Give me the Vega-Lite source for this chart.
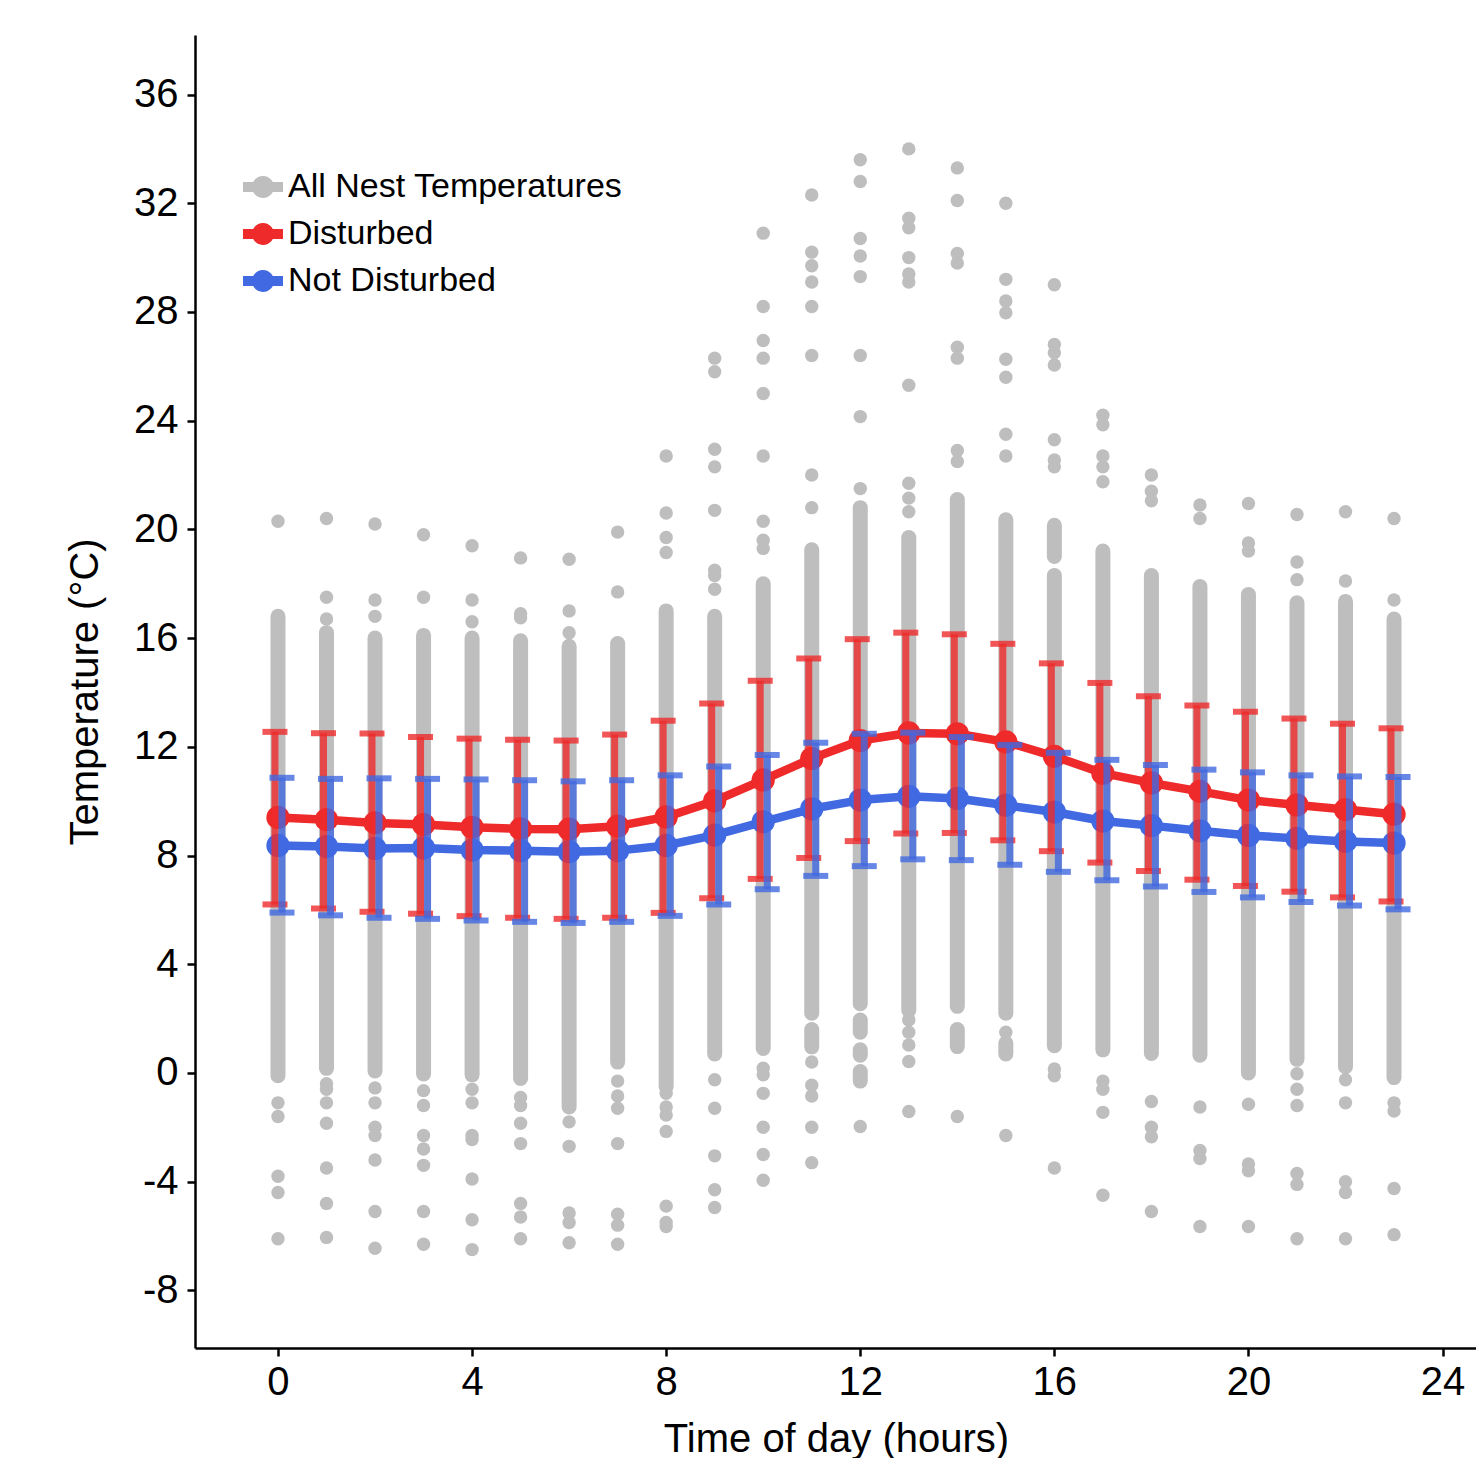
{
  "$schema": "https://vega.github.io/schema/vega-lite/v6.json",
  "width": 1282,
  "height": 1313,
  "autosize": {"type": "none"},
  "padding": {"left": 195, "top": 35, "right": 0, "bottom": 110},
  "background": "white",
  "config": {
    "font": "Liberation Sans",
    "view": {"stroke": null},
    "axis": {
      "domainColor": "black", "domainWidth": 2.5,
      "tickColor": "black", "tickWidth": 2.5, "tickSize": 8,
      "labelFontSize": 40, "labelColor": "black", "labelFont": "Liberation Sans",
      "titleFontSize": 40, "titleFontWeight": "normal", "titleColor": "black", "titleFont": "Liberation Sans",
      "grid": false, "labelFlush": false, "labelExpr": "toString(datum.value)"
    }
  },
  "datasets": {
    "means": [
      {"h":0,"g":"Disturbed","m":9.4,"lo":6.2,"hi":12.55},
      {"h":1,"g":"Disturbed","m":9.32,"lo":6.05,"hi":12.5},
      {"h":2,"g":"Disturbed","m":9.2,"lo":5.93,"hi":12.49},
      {"h":3,"g":"Disturbed","m":9.14,"lo":5.86,"hi":12.36},
      {"h":4,"g":"Disturbed","m":9.04,"lo":5.77,"hi":12.3},
      {"h":5,"g":"Disturbed","m":8.98,"lo":5.71,"hi":12.26},
      {"h":6,"g":"Disturbed","m":8.97,"lo":5.67,"hi":12.23},
      {"h":7,"g":"Disturbed","m":9.08,"lo":5.71,"hi":12.45},
      {"h":8,"g":"Disturbed","m":9.42,"lo":5.89,"hi":12.96},
      {"h":9,"g":"Disturbed","m":10.01,"lo":6.43,"hi":13.59},
      {"h":10,"g":"Disturbed","m":10.78,"lo":7.14,"hi":14.43},
      {"h":11,"g":"Disturbed","m":11.57,"lo":7.91,"hi":15.25},
      {"h":12,"g":"Disturbed","m":12.23,"lo":8.53,"hi":15.96},
      {"h":13,"g":"Disturbed","m":12.51,"lo":8.81,"hi":16.2},
      {"h":14,"g":"Disturbed","m":12.48,"lo":8.83,"hi":16.14},
      {"h":15,"g":"Disturbed","m":12.18,"lo":8.56,"hi":15.79},
      {"h":16,"g":"Disturbed","m":11.65,"lo":8.16,"hi":15.07},
      {"h":17,"g":"Disturbed","m":11.03,"lo":7.74,"hi":14.35},
      {"h":18,"g":"Disturbed","m":10.67,"lo":7.43,"hi":13.86},
      {"h":19,"g":"Disturbed","m":10.36,"lo":7.11,"hi":13.52},
      {"h":20,"g":"Disturbed","m":10.04,"lo":6.88,"hi":13.29},
      {"h":21,"g":"Disturbed","m":9.86,"lo":6.67,"hi":13.04},
      {"h":22,"g":"Disturbed","m":9.69,"lo":6.46,"hi":12.85},
      {"h":23,"g":"Disturbed","m":9.52,"lo":6.31,"hi":12.68},
      {"h":0,"g":"Not Disturbed","m":8.37,"lo":5.9,"hi":10.86},
      {"h":1,"g":"Not Disturbed","m":8.33,"lo":5.8,"hi":10.82},
      {"h":2,"g":"Not Disturbed","m":8.26,"lo":5.71,"hi":10.84},
      {"h":3,"g":"Not Disturbed","m":8.28,"lo":5.67,"hi":10.82},
      {"h":4,"g":"Not Disturbed","m":8.2,"lo":5.61,"hi":10.8},
      {"h":5,"g":"Not Disturbed","m":8.18,"lo":5.56,"hi":10.77},
      {"h":6,"g":"Not Disturbed","m":8.14,"lo":5.52,"hi":10.73},
      {"h":7,"g":"Not Disturbed","m":8.18,"lo":5.56,"hi":10.77},
      {"h":8,"g":"Not Disturbed","m":8.37,"lo":5.78,"hi":10.95},
      {"h":9,"g":"Not Disturbed","m":8.75,"lo":6.2,"hi":11.28},
      {"h":10,"g":"Not Disturbed","m":9.24,"lo":6.76,"hi":11.7},
      {"h":11,"g":"Not Disturbed","m":9.72,"lo":7.25,"hi":12.15},
      {"h":12,"g":"Not Disturbed","m":10.04,"lo":7.61,"hi":12.48},
      {"h":13,"g":"Not Disturbed","m":10.18,"lo":7.86,"hi":12.52},
      {"h":14,"g":"Not Disturbed","m":10.1,"lo":7.83,"hi":12.36},
      {"h":15,"g":"Not Disturbed","m":9.85,"lo":7.66,"hi":12.07},
      {"h":16,"g":"Not Disturbed","m":9.6,"lo":7.4,"hi":11.78},
      {"h":17,"g":"Not Disturbed","m":9.27,"lo":7.09,"hi":11.52},
      {"h":18,"g":"Not Disturbed","m":9.1,"lo":6.86,"hi":11.33},
      {"h":19,"g":"Not Disturbed","m":8.91,"lo":6.66,"hi":11.16},
      {"h":20,"g":"Not Disturbed","m":8.74,"lo":6.46,"hi":11.06},
      {"h":21,"g":"Not Disturbed","m":8.63,"lo":6.29,"hi":10.95},
      {"h":22,"g":"Not Disturbed","m":8.52,"lo":6.16,"hi":10.91},
      {"h":23,"g":"Not Disturbed","m":8.46,"lo":6.02,"hi":10.89}
    ],
    "dense": [
      {"h":0,"lo":-0.1,"hi":16.8},
      {"h":1,"lo":0.17,"hi":16.2},
      {"h":2,"lo":0.07,"hi":16.0},
      {"h":3,"lo":-0.04,"hi":16.1},
      {"h":4,"lo":-0.07,"hi":16.0},
      {"h":5,"lo":-0.2,"hi":15.9},
      {"h":6,"lo":-1.25,"hi":15.7},
      {"h":7,"lo":0.4,"hi":15.8},
      {"h":8,"lo":-0.5,"hi":17.0},
      {"h":9,"lo":0.7,"hi":16.8},
      {"h":10,"lo":0.9,"hi":18.0},
      {"h":11,"lo":2.2,"hi":19.25},
      {"h":11,"lo":0.96,"hi":1.6},
      {"h":12,"lo":2.55,"hi":20.8},
      {"h":12,"lo":1.5,"hi":1.95},
      {"h":12,"lo":0.65,"hi":0.85},
      {"h":12,"lo":-0.3,"hi":0.05},
      {"h":13,"lo":2.3,"hi":19.7},
      {"h":14,"lo":2.45,"hi":21.1},
      {"h":14,"lo":0.97,"hi":1.6},
      {"h":15,"lo":2.2,"hi":20.35},
      {"h":15,"lo":0.7,"hi":1.1},
      {"h":16,"lo":1.0,"hi":18.3},
      {"h":16,"lo":19.0,"hi":20.15},
      {"h":17,"lo":0.85,"hi":19.2},
      {"h":18,"lo":0.72,"hi":18.3},
      {"h":19,"lo":0.65,"hi":17.9},
      {"h":20,"lo":0.0,"hi":17.6},
      {"h":21,"lo":0.5,"hi":17.3},
      {"h":22,"lo":0.23,"hi":17.35},
      {"h":23,"lo":-0.17,"hi":16.7}
    ],
    "pts": [
      {"h":0,"t":20.3},{"h":0,"t":-1.1},{"h":0,"t":-1.6},{"h":0,"t":-3.8},{"h":0,"t":-4.4},{"h":0,"t":-6.1},
      {"h":1,"t":20.4},{"h":1,"t":17.5},{"h":1,"t":16.7},{"h":1,"t":-0.4},{"h":1,"t":-0.6},{"h":1,"t":-1.1},{"h":1,"t":-1.85},{"h":1,"t":-3.5},{"h":1,"t":-4.8},{"h":1,"t":-6.05},
      {"h":2,"t":20.2},{"h":2,"t":17.4},{"h":2,"t":16.8},{"h":2,"t":-0.55},{"h":2,"t":-1.1},{"h":2,"t":-2.0},{"h":2,"t":-2.3},{"h":2,"t":-3.2},{"h":2,"t":-5.1},{"h":2,"t":-6.45},
      {"h":3,"t":19.8},{"h":3,"t":17.5},{"h":3,"t":-0.65},{"h":3,"t":-1.2},{"h":3,"t":-2.3},{"h":3,"t":-2.8},{"h":3,"t":-3.4},{"h":3,"t":-5.1},{"h":3,"t":-6.3},
      {"h":4,"t":19.4},{"h":4,"t":17.4},{"h":4,"t":16.6},{"h":4,"t":-0.6},{"h":4,"t":-1.1},{"h":4,"t":-2.3},{"h":4,"t":-2.45},{"h":4,"t":-3.9},{"h":4,"t":-5.4},{"h":4,"t":-6.5},
      {"h":5,"t":18.95},{"h":5,"t":16.9},{"h":5,"t":16.75},{"h":5,"t":-0.9},{"h":5,"t":-1.2},{"h":5,"t":-1.85},{"h":5,"t":-2.6},{"h":5,"t":-4.8},{"h":5,"t":-5.3},{"h":5,"t":-6.1},
      {"h":6,"t":18.9},{"h":6,"t":17.0},{"h":6,"t":16.2},{"h":6,"t":-1.8},{"h":6,"t":-2.7},{"h":6,"t":-5.15},{"h":6,"t":-5.5},{"h":6,"t":-6.25},
      {"h":7,"t":19.9},{"h":7,"t":17.7},{"h":7,"t":-0.3},{"h":7,"t":-0.85},{"h":7,"t":-1.3},{"h":7,"t":-2.6},{"h":7,"t":-5.2},{"h":7,"t":-5.6},{"h":7,"t":-6.3},
      {"h":8,"t":22.7},{"h":8,"t":20.6},{"h":8,"t":19.7},{"h":8,"t":19.15},{"h":8,"t":-0.75},{"h":8,"t":-1.25},{"h":8,"t":-1.55},{"h":8,"t":-2.15},{"h":8,"t":-4.9},{"h":8,"t":-5.5},{"h":8,"t":-5.65},
      {"h":9,"t":26.3},{"h":9,"t":25.8},{"h":9,"t":22.95},{"h":9,"t":22.3},{"h":9,"t":20.7},{"h":9,"t":18.5},{"h":9,"t":18.3},{"h":9,"t":17.8},{"h":9,"t":-0.25},{"h":9,"t":-1.3},{"h":9,"t":-3.05},{"h":9,"t":-4.3},{"h":9,"t":-4.95},
      {"h":10,"t":30.9},{"h":10,"t":28.2},{"h":10,"t":26.95},{"h":10,"t":26.3},{"h":10,"t":25.0},{"h":10,"t":22.7},{"h":10,"t":20.3},{"h":10,"t":19.6},{"h":10,"t":19.3},{"h":10,"t":0.17},{"h":10,"t":-0.07},{"h":10,"t":-0.75},{"h":10,"t":-2.0},{"h":10,"t":-3.0},{"h":10,"t":-3.95},
      {"h":11,"t":32.3},{"h":11,"t":30.2},{"h":11,"t":29.7},{"h":11,"t":29.1},{"h":11,"t":28.2},{"h":11,"t":26.4},{"h":11,"t":22.0},{"h":11,"t":20.8},{"h":11,"t":0.4},{"h":11,"t":-0.45},{"h":11,"t":-0.85},{"h":11,"t":-2.0},{"h":11,"t":-3.3},
      {"h":12,"t":33.6},{"h":12,"t":32.8},{"h":12,"t":30.7},{"h":12,"t":30.06},{"h":12,"t":29.3},{"h":12,"t":26.4},{"h":12,"t":24.15},{"h":12,"t":21.5},{"h":12,"t":-1.97},
      {"h":13,"t":34.0},{"h":13,"t":31.45},{"h":13,"t":31.1},{"h":13,"t":30.0},{"h":13,"t":29.4},{"h":13,"t":29.1},{"h":13,"t":25.3},{"h":13,"t":21.7},{"h":13,"t":21.15},{"h":13,"t":20.65},{"h":13,"t":1.95},{"h":13,"t":1.5},{"h":13,"t":1.03},{"h":13,"t":0.42},{"h":13,"t":-1.42},
      {"h":14,"t":33.3},{"h":14,"t":32.1},{"h":14,"t":30.15},{"h":14,"t":29.8},{"h":14,"t":26.7},{"h":14,"t":26.3},{"h":14,"t":22.9},{"h":14,"t":22.5},{"h":14,"t":-1.6},
      {"h":15,"t":32.0},{"h":15,"t":29.2},{"h":15,"t":28.4},{"h":15,"t":27.97},{"h":15,"t":26.26},{"h":15,"t":25.6},{"h":15,"t":23.5},{"h":15,"t":22.7},{"h":15,"t":1.5},{"h":15,"t":-2.3},
      {"h":16,"t":29.0},{"h":16,"t":26.8},{"h":16,"t":26.5},{"h":16,"t":26.05},{"h":16,"t":23.3},{"h":16,"t":22.55},{"h":16,"t":22.3},{"h":16,"t":0.15},{"h":16,"t":-0.1},{"h":16,"t":-3.5},
      {"h":17,"t":24.2},{"h":17,"t":23.85},{"h":17,"t":22.7},{"h":17,"t":22.3},{"h":17,"t":21.75},{"h":17,"t":-0.3},{"h":17,"t":-0.6},{"h":17,"t":-1.45},{"h":17,"t":-4.5},
      {"h":18,"t":22.0},{"h":18,"t":21.4},{"h":18,"t":21.05},{"h":18,"t":-1.05},{"h":18,"t":-2.0},{"h":18,"t":-2.35},{"h":18,"t":-5.1},
      {"h":19,"t":20.9},{"h":19,"t":20.4},{"h":19,"t":-1.25},{"h":19,"t":-2.85},{"h":19,"t":-3.15},{"h":19,"t":-5.65},
      {"h":20,"t":20.95},{"h":20,"t":19.5},{"h":20,"t":19.2},{"h":20,"t":-1.15},{"h":20,"t":-3.35},{"h":20,"t":-3.6},{"h":20,"t":-5.65},
      {"h":21,"t":20.55},{"h":21,"t":18.8},{"h":21,"t":18.15},{"h":21,"t":-0.03},{"h":21,"t":-0.6},{"h":21,"t":-1.2},{"h":21,"t":-3.7},{"h":21,"t":-4.1},{"h":21,"t":-6.1},
      {"h":22,"t":20.65},{"h":22,"t":18.1},{"h":22,"t":-0.25},{"h":22,"t":-1.1},{"h":22,"t":-4.0},{"h":22,"t":-4.4},{"h":22,"t":-6.1},
      {"h":23,"t":20.4},{"h":23,"t":17.4},{"h":23,"t":-1.1},{"h":23,"t":-1.4},{"h":23,"t":-4.25},{"h":23,"t":-5.95}
    ]
  },
  "encoding": {
    "x": {
      "field": "h", "type": "quantitative",
      "scale": {"domain": [-1.71, 24.71], "nice": false, "zero": false},
      "axis": {"values": [0,4,8,12,16,20,24], "title": "Time of day (hours)", "labelPadding": 6, "titlePadding": 17}
    }
  },
  "layer": [
    {
      "data": {"name": "dense"},
      "mark": {"type": "rule", "color": "#BEBEBE", "strokeWidth": 15, "strokeCap": "round"},
      "encoding": {
        "y": {"field": "lo", "type": "quantitative", "scale": {"domain": [-10.12, 38.19], "nice": false, "zero": false},
              "axis": {"values": [-8,-4,0,4,8,12,16,20,24,28,32,36], "title": "Temperature (°C)", "labelPadding": 9, "titlePadding": 28}},
        "y2": {"field": "hi"}
      }
    },
    {
      "data": {"name": "pts"},
      "mark": {"type": "point", "filled": true, "opacity": 1, "size": 180, "strokeWidth": 0},
      "encoding": {
        "y": {"field": "t", "type": "quantitative"},
        "color": {
          "datum": "All Nest Temperatures",
          "scale": {"domain": ["All Nest Temperatures", "Disturbed", "Not Disturbed"], "range": ["#BEBEBE", "#EE2A2A", "#4169E1"]},
          "legend": {
            "orient": "none", "legendX": 48, "legendY": 132, "title": null,
            "symbolType": "M-1,-0.25L1,-0.25L1,0.25L-1,0.25Z M0.55,0A0.55,0.55,0,1,1,-0.55,0A0.55,0.55,0,1,1,0.55,0Z",
            "symbolSize": 1600, "symbolStrokeWidth": 0, "symbolOpacity": 1,
            "labelFontSize": 34, "labelColor": "black", "labelFont": "Liberation Sans", "labelLimit": 0,
            "rowPadding": 10, "labelOffset": 5, "padding": 0
          }
        }
      }
    },
    {
      "data": {"name": "means"},
      "mark": {"type": "line", "strokeWidth": 8.5, "strokeJoin": "round"},
      "encoding": {
        "y": {"field": "m", "type": "quantitative"},
        "color": {"field": "g", "type": "nominal", "legend": null}
      }
    },
    {
      "data": {"name": "means"},
      "mark": {"type": "point", "filled": true, "opacity": 1, "size": 540, "strokeWidth": 0},
      "encoding": {
        "y": {"field": "m", "type": "quantitative"},
        "color": {
          "field": "g", "type": "nominal",
          "legend": {
            "orient": "none", "legendX": 48, "legendY": 132, "title": null,
            "symbolType": "M-1,-0.25L1,-0.25L1,0.25L-1,0.25Z M0.55,0A0.55,0.55,0,1,1,-0.55,0A0.55,0.55,0,1,1,0.55,0Z",
            "symbolSize": 1600, "symbolStrokeWidth": 0, "symbolOpacity": 1,
            "labelFontSize": 34, "labelColor": "black", "labelFont": "Liberation Sans", "labelLimit": 0,
            "rowPadding": 10, "labelOffset": 5, "padding": 0
          }
        }
      }
    },
    {
      "data": {"name": "means"},
      "transform": [{"filter": "datum.g === 'Disturbed'"}],
      "mark": {"type": "rule", "color": "#EE2A2A", "strokeWidth": 7, "opacity": 0.8, "xOffset": -3},
      "encoding": {
        "y": {"field": "lo", "type": "quantitative"},
        "y2": {"field": "hi"}
      }
    },
    {
      "data": {"name": "means"},
      "transform": [{"filter": "datum.g === 'Disturbed'"}],
      "layer": [
        {"mark": {"type": "tick", "orient": "horizontal", "color": "#EE2A2A", "size": 25, "thickness": 6, "opacity": 0.8, "xOffset": -3},
         "encoding": {"y": {"field": "lo", "type": "quantitative"}}},
        {"mark": {"type": "tick", "orient": "horizontal", "color": "#EE2A2A", "size": 25, "thickness": 6, "opacity": 0.8, "xOffset": -3},
         "encoding": {"y": {"field": "hi", "type": "quantitative"}}}
      ]
    },
    {
      "data": {"name": "means"},
      "transform": [{"filter": "datum.g === 'Not Disturbed'"}],
      "mark": {"type": "rule", "color": "#4169E1", "strokeWidth": 7, "opacity": 0.8, "xOffset": 4},
      "encoding": {
        "y": {"field": "lo", "type": "quantitative"},
        "y2": {"field": "hi"}
      }
    },
    {
      "data": {"name": "means"},
      "transform": [{"filter": "datum.g === 'Not Disturbed'"}],
      "layer": [
        {"mark": {"type": "tick", "orient": "horizontal", "color": "#4169E1", "size": 25, "thickness": 6, "opacity": 0.8, "xOffset": 4},
         "encoding": {"y": {"field": "lo", "type": "quantitative"}}},
        {"mark": {"type": "tick", "orient": "horizontal", "color": "#4169E1", "size": 25, "thickness": 6, "opacity": 0.8, "xOffset": 4},
         "encoding": {"y": {"field": "hi", "type": "quantitative"}}}
      ]
    }
  ]
}
